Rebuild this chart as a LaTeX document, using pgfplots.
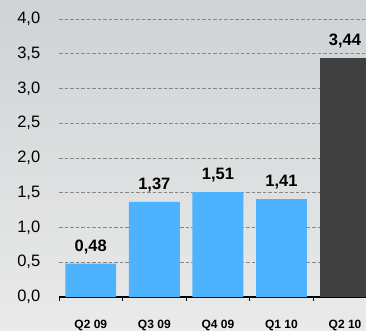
\documentclass[border=0pt]{standalone}
\usepackage{pgfplots}
\pgfplotsset{compat=1.18}
\usepackage{fontspec}
\setmainfont{Liberation Sans}
\definecolor{barblue}{RGB}{77,179,255}
\definecolor{bardark}{RGB}{64,64,64}
\definecolor{bgtop}{RGB}{206,211,213}
\definecolor{bgbot}{RGB}{234,234,234}
\definecolor{gridc}{RGB}{135,135,135}
\begin{document}
\begin{tikzpicture}
\useasboundingbox (-59bp,-34bp) rectangle (307bp,297bp);
\shade[top color=bgtop, bottom color=bgbot] (-59bp,-34bp) rectangle (307bp,297bp);
\begin{axis}[
  anchor=south west, at={(0,0)},
  scale only axis, width=307bp, height=278bp,
  xmin=-0.5, xmax=4.33, ymin=0, ymax=4,
  axis lines*=left,
  y axis line style={draw=none},
  x axis line style={black, line width=1.2bp},
  ytick={0,0.5,...,4.0},
  ytick style={draw=none},
  ymajorgrids,
  major grid style={gridc, dash pattern=on 3.5bp off 2bp, line width=0.8bp},
  xtick={0,1,2,3,4},
  xticklabels={Q2 09,Q3 09,Q4 09,Q1 10,Q2 10},
  major x tick style={draw=none},
  minor xtick={-0.5,0.5,1.5,2.5,3.5},
  minor x tick style={black, line width=1bp},
  minor tick length=4bp,
  xtick pos=lower,
  tick align=outside,
  xticklabel style={font=\fontsize{12bp}{13bp}\selectfont\bfseries, yshift=-15bp},
  yticklabel style={font=\fontsize{16.5bp}{18bp}\selectfont, xshift=-11bp},
  /pgf/number format/assume math mode=true,
  yticklabel={\pgfmathprintnumber[fixed,fixed zerofill,precision=1,use comma]{\tick}},
  ybar, bar width=0.8, bar shift=0pt,
  nodes near coords={\pgfmathprintnumber[fixed,fixed zerofill,precision=2,use comma]{\pgfplotspointmeta}},
  nodes near coords style={font=\fontsize{16.5bp}{18bp}\selectfont\bfseries, black, anchor=south, yshift=6bp},
]
\addplot[fill=barblue, draw=none] coordinates {(0,0.48) (1,1.37) (2,1.51) (3,1.41)};
\addplot[fill=bardark, draw=none] coordinates {(4,3.44)};
\end{axis}
\end{tikzpicture}
\end{document}
